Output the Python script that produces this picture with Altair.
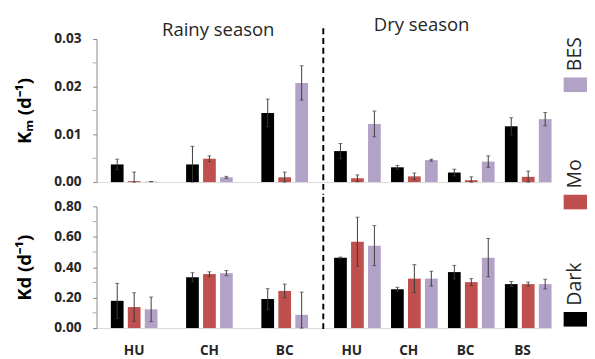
import altair as alt
import pandas as pd

series = ["Dark", "Mo", "BES"]
colors = ["#000000", "#c0504d", "#b3a2c7"]
rainy_sites = ["HU", "CH", "BC"]
dry_sites = ["HU", "CH", "BC", "BS"]

# Km (d-1), rainy season (HU, CH, BC)
km_rainy = {"Dark": [0.0037, 0.0037, 0.0145], "Mo": [0.0002, 0.0049, 0.0010], "BES": [0.0001, 0.0010, 0.0208]}
km_rainy_err = {"Dark": [0.0011, 0.0038, 0.0029], "Mo": [0.0019, 0.0006, 0.0011], "BES": [0.0000, 0.0002, 0.0036]}
# Km (d-1), dry season (HU, CH, BC, BS)
km_dry = {"Dark": [0.0065, 0.0031, 0.0020, 0.0117], "Mo": [0.0008, 0.0012, 0.0004, 0.0011], "BES": [0.0122, 0.0046, 0.0043, 0.0132]}
km_dry_err = {"Dark": [0.0016, 0.0004, 0.0007, 0.0018], "Mo": [0.0007, 0.0007, 0.0007, 0.0012], "BES": [0.0027, 0.0002, 0.0012, 0.0014]}
# Kd (d-1), rainy season
kd_rainy = {"Dark": [0.179, 0.334, 0.191], "Mo": [0.138, 0.355, 0.244], "BES": [0.123, 0.361, 0.087]}
kd_rainy_err = {"Dark": [0.115, 0.030, 0.068], "Mo": [0.094, 0.015, 0.045], "BES": [0.081, 0.017, 0.149]}
# Kd (d-1), dry season
kd_dry = {"Dark": [0.463, 0.255, 0.368, 0.289], "Mo": [0.568, 0.325, 0.302, 0.289], "BES": [0.542, 0.325, 0.463, 0.289]}
kd_dry_err = {"Dark": [0.004, 0.013, 0.044, 0.017], "Mo": [0.161, 0.092, 0.023, 0.013], "BES": [0.132, 0.049, 0.126, 0.032]}

km_major = [0, 0.01, 0.02, 0.03]
km_minor = [0.005, 0.015, 0.025]
kd_major = [0, 0.2, 0.4, 0.6, 0.8]
kd_minor = [0.1, 0.3, 0.5, 0.7]

FONT = "Open Sans"
TXT = "#262626"
AX = "#868686"
LEFT_W, RIGHT_W = 232, 234
TOP_H, BOT_H = 147, 125


def table(sites, vals, errs):
    rows = []
    for s in series:
        for i, site in enumerate(sites):
            v, e = vals[s][i], errs[s][i]
            rows.append({"site": site, "series": s, "value": v, "lo": v - e, "hi": v + e})
    return pd.DataFrame(rows)


def panel(df, sites, width, height, domain, major, minor, ytitle, show_y, show_x,
          title=None, title_dx=0, dash_top=None, dash_bottom=0):
    x = alt.X("site:N", sort=sites,
              scale=alt.Scale(paddingInner=0.38, paddingOuter=0.19),
              axis=alt.Axis(title=None, labels=show_x, ticks=False, domainColor="#d9d9d9",
                            labelFont=FONT, labelFontWeight="bold", labelFontSize=14,
                            labelColor=TXT, labelPadding=16, labelAngle=0))
    xo = alt.XOffset("series:N", sort=series, scale=alt.Scale(paddingInner=0.25, paddingOuter=0))
    yscale = alt.Scale(domain=domain, clamp=True, nice=False)
    if show_y:
        yaxis = alt.Axis(title=ytitle, values=major, tickCount=20, format=".2f", labelOverlap=False,
                         tickSize=4, tickColor=AX, domainColor=AX, grid=False,
                         labelFont=FONT, labelFontWeight="bold", labelFontSize=14, labelColor=TXT,
                         labelPadding=12, titleFont=FONT, titleFontSize=19, titleFontWeight="bold",
                         titleColor="#000000", titlePadding=20)
    else:
        yaxis = None
    base = alt.Chart(df)
    bars = base.mark_bar().encode(
        x=x, xOffset=xo,
        y=alt.Y("value:Q", scale=yscale, axis=yaxis),
        color=alt.Color("series:N", scale=alt.Scale(domain=series, range=colors), legend=None),
    )
    rules = base.mark_rule(color="#3a3a3a", strokeWidth=1).encode(
        x=x, xOffset=xo, y=alt.Y("lo:Q", scale=yscale), y2="hi:Q")
    cap_hi = base.mark_tick(color="#3a3a3a", thickness=1, size=4).encode(
        x=x, xOffset=xo, y=alt.Y("hi:Q", scale=yscale))
    cap_lo = base.mark_tick(color="#3a3a3a", thickness=1, size=4).encode(
        x=x, xOffset=xo, y=alt.Y("lo:Q", scale=yscale))
    layers = [bars, rules, cap_hi, cap_lo]
    if show_y:
        minor_ticks = alt.Chart(pd.DataFrame({"v": minor})).mark_tick(
            orient="horizontal", size=4, thickness=1, color=AX).encode(
            x=alt.value(-2), y=alt.Y("v:Q", scale=yscale))
        layers.append(minor_ticks)
    if dash_top is not None:
        dash = alt.Chart(df.head(1)).mark_rule(color="#000000", strokeWidth=2, strokeDash=[6, 4]).encode(
            x=alt.value(0), y=alt.value(-dash_top), y2=alt.value(height + dash_bottom))
        layers.append(dash)
    ch = alt.layer(*layers).properties(width=width, height=height)
    if title:
        ch = ch.properties(title=alt.TitleParams(text=title, font=FONT, fontSize=19, fontWeight="normal",
                                                 color=TXT, offset=-8, dx=title_dx))
    return ch


rt = panel(table(rainy_sites, km_rainy, km_rainy_err), rainy_sites, LEFT_W, TOP_H, [0, 0.03], km_major, km_minor,
           "Kₘ (d⁻¹)", True, False, title="Rainy season", title_dx=9)
dt = panel(table(dry_sites, km_dry, km_dry_err), dry_sites, RIGHT_W, TOP_H, [0, 0.03], km_major, km_minor,
           "", False, False, title="Dry season", title_dx=-16, dash_top=11, dash_bottom=13)
rb = panel(table(rainy_sites, kd_rainy, kd_rainy_err), rainy_sites, LEFT_W, BOT_H, [0, 0.8], kd_major, kd_minor,
           "Kd (d⁻¹)", True, True)
db = panel(table(dry_sites, kd_dry, kd_dry_err), dry_sites, RIGHT_W, BOT_H, [0, 0.8], kd_major, kd_minor,
           "", False, True, dash_top=10, dash_bottom=4)

grid = alt.vconcat(
    alt.hconcat(rt, dt, spacing=0),
    alt.hconcat(rb, db, spacing=0),
    spacing=0,
)

leg_df = pd.DataFrame({"series": series})
ly = alt.Y("series:N", sort=series[::-1], scale=alt.Scale(type="point", range=[47, 288], padding=0), axis=None)
leg_sq = alt.Chart(leg_df).mark_point(filled=True, opacity=1, shape="M-1,-0.625H1V0.625H-1Z", size=576).encode(
    x=alt.value(12), y=ly,
    color=alt.Color("series:N", scale=alt.Scale(domain=series, range=colors), legend=None))
leg_tx = alt.Chart(leg_df).mark_text(angle=270, align="left", baseline="middle", dx=14, dy=5,
                                     font=FONT, fontSize=20, color=TXT).encode(
    x=alt.value(7), y=ly, text="series:N")
legend = alt.layer(leg_sq, leg_tx).properties(width=14, height=300)

chart = alt.hconcat(grid, legend, spacing=12).properties(
    padding={"left": 7, "top": 4, "right": 0, "bottom": 0}
).configure_view(stroke=None)

chart.save("out.html", embed_options={"renderer": "svg", "actions": False})
